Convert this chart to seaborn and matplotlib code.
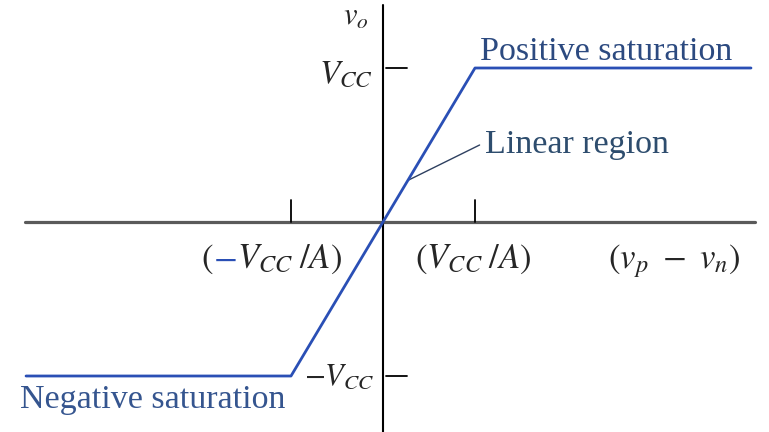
import numpy as np
import pandas as pd
import seaborn as sns
import matplotlib
matplotlib.use("Agg")
import matplotlib.pyplot as plt

sns.set_theme(style="white")
plt.rcParams['font.family'] = ['Liberation Serif', 'DejaVu Serif']
plt.rcParams['mathtext.fontset'] = 'stix'

# transfer characteristic of the op amp
# x in units of Vcc/A, y in units of Vcc
v_in = [-3.88, -1.0, 1.0, 4.0]
v_out = [-1.0, -1.0, 1.0, 1.0]
x_ticks = [-1.0, 1.0]
y_ticks = [-1.0, 1.0]
x_labels = [r"$(-V_{CC}\;/A)$", r"$(V_{CC}\;/A)$"]

df = pd.DataFrame({"vd": v_in, "vo": v_out})

fig = plt.figure(figsize=(7.69, 4.32), dpi=100)
ax = fig.add_axes([0, 0, 1, 1])
ax.set_xlim(-383 / 92, 386 / 92)
ax.set_ylim(-210 / 154, 222 / 154)
ax.axis("off")

# axes drawn by hand, like in the textbook figure
ax.plot([-3.89, 4.04], [0, 0], color="#5a5a5a", lw=2.3, zorder=1)
ax.plot([0, 0], [-1.37, 1.41], color="black", lw=1.5, zorder=1)
for xt in x_ticks:
    ax.plot([xt, xt], [0, 0.143], color="black", lw=1.3)
for yt in y_ticks:
    ax.plot([0.03, 0.26], [yt, yt], color="black", lw=1.3)

sns.lineplot(data=df, x="vd", y="vo", sort=False, estimator=None,
             color="#2a4fb5", lw=2.0, ax=ax, zorder=3)

# leader line for linear region
ax.plot([0.27, 1.05], [0.27, 0.50], color="#2e4060", lw=1.0)

# axis labels
ax.text(-0.30, 1.33, r"$v_o$", fontsize=22, ha="center", va="center")
ax.text(-0.11, 0.96, r"$V_{CC}$", fontsize=24, ha="right", va="center")
ax.text(-0.09, -1.01, r"$-V_{CC}$", fontsize=22, ha="right", va="center")

base = -0.30
fs = 25
# left label in pieces so the minus sign can be blue, as in the original
t1 = ax.text(-1.98, base, r"$($", fontsize=fs, ha="left", va="baseline")
t2 = ax.annotate(r"$-$", xy=(1, base), xycoords=(t1, "data"), fontsize=fs,
                 ha="left", va="baseline", color="#2a4fb5")
ax.annotate(r"$V_{CC}\;/A)$", xy=(1, base), xycoords=(t2, "data"), fontsize=fs,
            ha="left", va="baseline")
ax.text(0.35, base, x_labels[1], fontsize=fs, ha="left", va="baseline")
ax.text(2.45, base, r"$(v_p\ -\ v_n)$", fontsize=fs, ha="left", va="baseline")

ax.text(1.05, 1.05, "Positive saturation", fontsize=24.5, color="#2c4a80",
        ha="left", va="baseline")
ax.text(1.11, 0.448, "Linear region", fontsize=24.5, color="#2e4d6e",
        ha="left", va="baseline")
ax.text(-3.95, -1.156, "Negative saturation", fontsize=24.5, color="#35558f",
        ha="left", va="center")

fig.savefig("out.png", dpi=100)
